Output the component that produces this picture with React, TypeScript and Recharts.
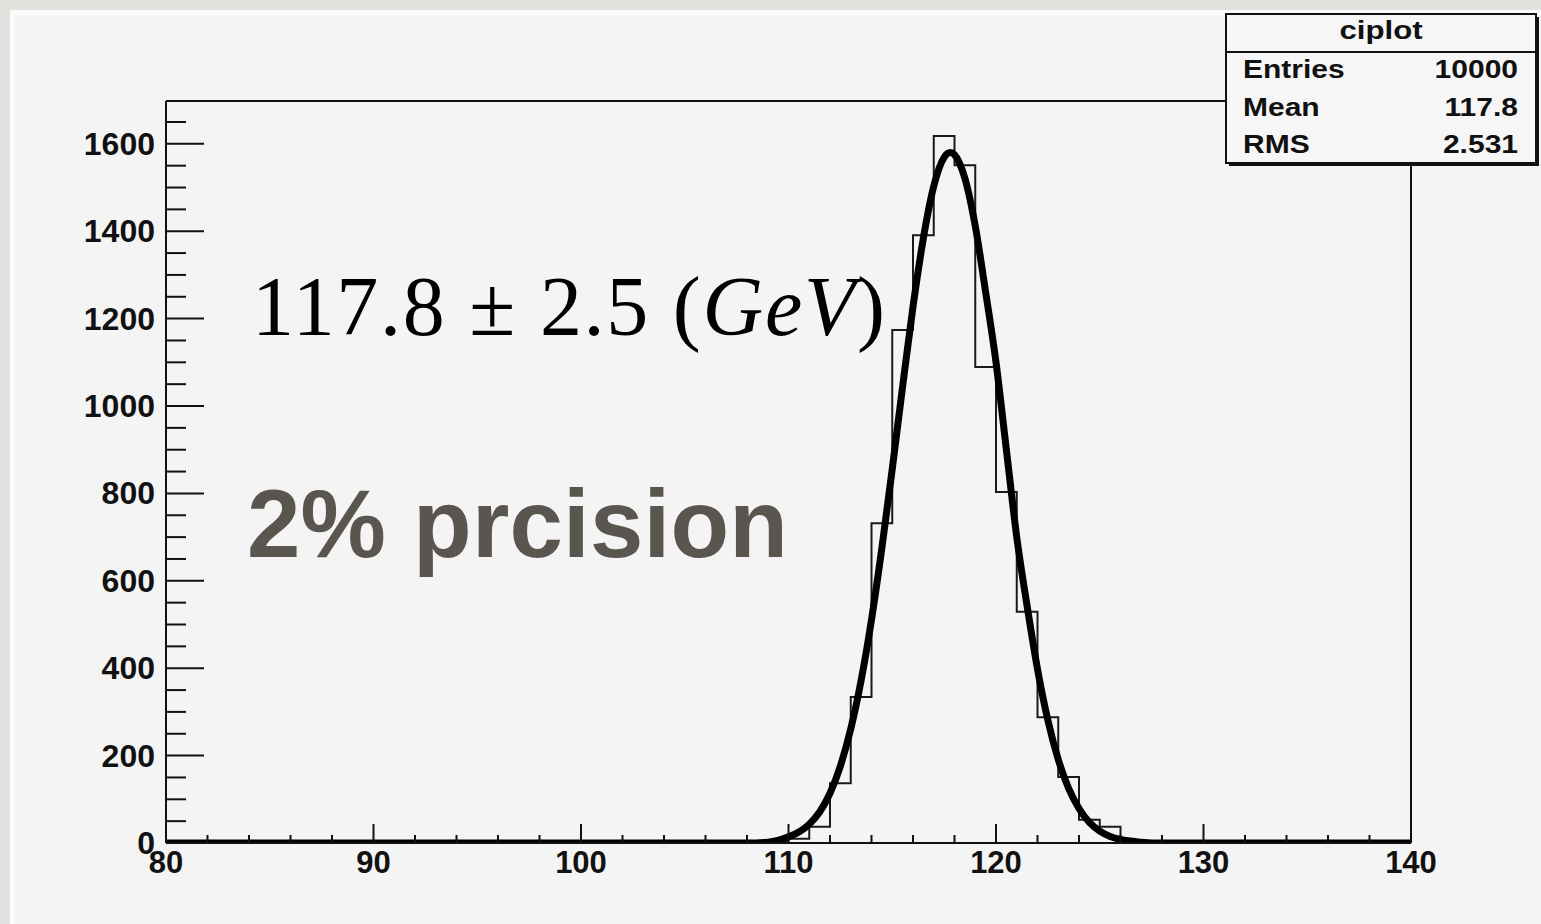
import { ComposedChart, Line, XAxis, YAxis, ReferenceLine } from 'recharts';

// axis ticks (minor every 2 on x, every 50 on y; labels on the majors)
const xTicks = [80, 82, 84, 86, 88, 90, 92, 94, 96, 98, 100, 102, 104, 106, 108, 110, 112, 114, 116, 118, 120, 122, 124, 126, 128, 130, 132, 134, 136, 138, 140];
const xLabels = [80, 90, 100, 110, 120, 130, 140];
const yTicks = [0, 50, 100, 150, 200, 250, 300, 350, 400, 450, 500, 550, 600, 650, 700, 750, 800, 850, 900, 950, 1000, 1050, 1100, 1150, 1200, 1250, 1300, 1350, 1400, 1450, 1500, 1550, 1600, 1650];
const yLabels = [0, 200, 400, 600, 800, 1000, 1200, 1400, 1600];
const yMax = 1698;

// histogram: 1 GeV bins, low edge + entries
const binStart = [80, 108, 109, 110, 111, 112, 113, 114, 115, 116, 117, 118, 119, 120, 121, 122, 123, 124, 125, 126, 127, 128, 140];
const binCount = [0, 0, 2, 10, 37, 137, 334, 732, 1174, 1391, 1618, 1551, 1089, 803, 529, 288, 151, 53, 37, 5, 0, 0, 0];

// gaussian fit curve
const fitX = [80, 100, 108, 109, 110, 110.5, 111, 111.5, 112, 112.5, 113, 113.5, 114, 114.5, 115, 115.5, 116, 116.5, 117, 117.5, 117.8, 118, 118.5, 119, 119.5, 120, 120.5, 121, 121.5, 122, 122.5, 123, 123.5, 124, 124.5, 125, 125.5, 126, 127, 128, 140];
const fitY = [0, 0, 0, 2, 14, 25, 43, 71, 114, 176, 261, 372, 511, 675, 856, 1045, 1227, 1384, 1503, 1569, 1580, 1575, 1521, 1412, 1261, 1100, 900, 700, 542, 398, 281, 191, 125, 79, 47, 27, 15, 8, 2, 0, 0];

// stats box rows
const statLabels = ['Entries', 'Mean', 'RMS'];
const statValues = ['10000', '117.8', '2.531'];

const histData = binStart.map((x, i) => ({ x, n: binCount[i] }));
const fitData = fitX.map((x, i) => ({ x, f: fitY[i] }));

const tickFont = '"Liberation Sans", Arial, sans-serif';

function XTick(props: any) {
  const { x, y, payload } = props;
  const v = payload.value;
  const major = xLabels.includes(v);
  return (
    <g>
      <line x1={x} x2={x} y1={y} y2={y - (major ? 19 : 8)} stroke="#111" strokeWidth={2} />
      {major && (
        <text x={x} y={y + 30} textAnchor="middle" fontFamily={tickFont} fontWeight="bold" fontSize={31} fill="#111">
          {v}
        </text>
      )}
    </g>
  );
}

function YTick(props: any) {
  const { x, y, payload } = props;
  const v = payload.value;
  const major = yLabels.includes(v);
  return (
    <g>
      <line x1={x} x2={x + (major ? 38 : 20)} y1={y} y2={y} stroke="#111" strokeWidth={2} />
      {major && (
        <text x={x - 11} y={y + 11} textAnchor="end" fontFamily={tickFont} fontWeight="bold" fontSize={32} fill="#111">
          {v}
        </text>
      )}
    </g>
  );
}

export default function App() {
  return (
    <div style={{ position: 'absolute', left: 0, top: 0, width: 1541, height: 924, background: '#e2e2de', overflow: 'hidden' }}>
      <div
        style={{
          position: 'absolute',
          left: 10,
          top: 10,
          width: 1531,
          height: 914,
          background: '#f4f4f4',
          borderLeft: '5px solid #fbfbfb',
          borderTop: '5px solid #fbfbfb',
          boxSizing: 'border-box',
        }}
      />
      <div style={{ position: 'absolute', left: 0, top: 0 }}>
        <ComposedChart width={1541} height={924} margin={{ top: 101, right: 130, bottom: 21, left: 66 }}>
          <XAxis
            type="number"
            dataKey="x"
            domain={[80, 140]}
            ticks={xTicks}
            interval={0}
            allowDataOverflow
            height={60}
            tickSize={0}
            tickMargin={0}
            tickLine={false}
            axisLine={{ stroke: '#111', strokeWidth: 2 }}
            tick={(p: any) => <XTick {...p} />}
          />
          <YAxis
            type="number"
            domain={[0, yMax]}
            ticks={yTicks}
            interval={0}
            allowDataOverflow
            width={100}
            tickSize={0}
            tickMargin={0}
            tickLine={false}
            axisLine={{ stroke: '#111', strokeWidth: 2 }}
            tick={(p: any) => <YTick {...p} />}
          />
          <ReferenceLine y={yMax} stroke="#111" strokeWidth={2} />
          <ReferenceLine x={140} stroke="#111" strokeWidth={2} />
          <Line
            data={histData}
            dataKey="n"
            type="stepAfter"
            stroke="#1a1a1a"
            strokeWidth={2}
            dot={false}
            isAnimationActive={false}
          />
          <Line
            data={fitData}
            dataKey="f"
            type="monotone"
            stroke="#000"
            strokeWidth={7}
            strokeLinejoin="round"
            dot={false}
            isAnimationActive={false}
          />
        </ComposedChart>
      </div>
      <svg width={1541} height={924} style={{ position: 'absolute', left: 0, top: 0, pointerEvents: 'none' }}>
        <text x={252} y={335} fontFamily='"Liberation Serif", "Times New Roman", serif' fontSize={84} fill="#000" textLength={633} lengthAdjust="spacing">
          <tspan>117.8 ± 2.5 (</tspan>
          <tspan fontStyle="italic">GeV</tspan>
          <tspan>)</tspan>
        </text>
        <text x={247} y={557} fontFamily={tickFont} fontWeight="bold" fontSize={96} fill="#5a554f" textLength={541} lengthAdjust="spacing">
          2% prcision
        </text>

        <rect x={1229} y={17} width={310} height={149} fill="#111" />
        <rect x={1226} y={14} width={310} height={149} fill="#f6f6f6" stroke="#111" strokeWidth={2} />
        <line x1={1226} x2={1536} y1={52} y2={52} stroke="#111" strokeWidth={2} />
        <g transform="translate(1381,39) scale(1.2,1)">
          <text x={0} y={0} textAnchor="middle" fontFamily={tickFont} fontWeight="bold" fontSize={26} fill="#111">
            ciplot
          </text>
        </g>
        {statLabels.map((s, i) => (
          <g key={s} transform={`translate(1243,${78 + i * 37.5}) scale(1.2,1)`}>
            <text x={0} y={0} fontFamily={tickFont} fontWeight="bold" fontSize={25} fill="#111">
              {s}
            </text>
          </g>
        ))}
        {statValues.map((s, i) => (
          <g key={s} transform={`translate(1518,${78 + i * 37.5}) scale(1.2,1)`}>
            <text x={0} y={0} textAnchor="end" fontFamily={tickFont} fontWeight="bold" fontSize={25} fill="#111">
              {s}
            </text>
          </g>
        ))}
      </svg>
    </div>
  );
}
